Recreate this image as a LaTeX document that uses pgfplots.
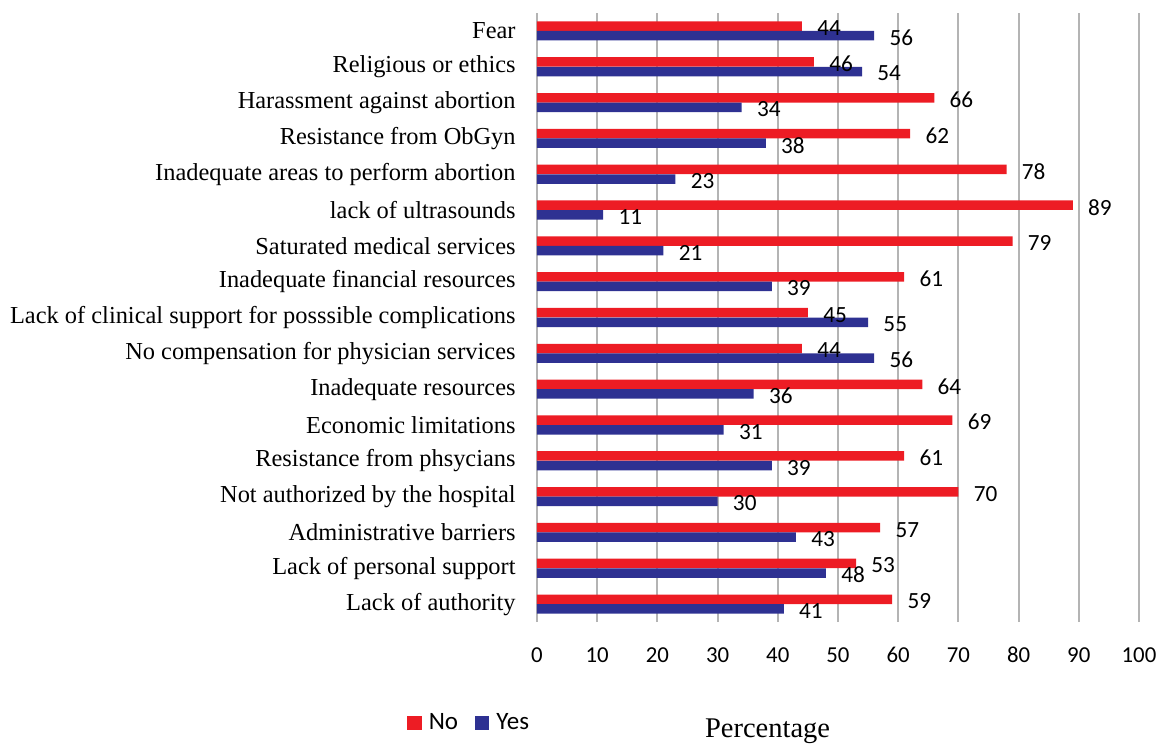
\documentclass[border=0pt]{standalone}
\usepackage{fontspec}
\setmainfont{Liberation Serif}
\newfontfamily\carlito{Carlito}
\usepackage{pgfplots}
\pgfplotsset{compat=1.18}
\definecolor{nored}{HTML}{ED1C24}
\definecolor{yesblue}{HTML}{2E3192}
\definecolor{gridgray}{HTML}{B4B4B4}
\begin{document}
\begin{tikzpicture}
\begin{axis}[
  scale only axis, width=301pt, height=304.5pt,
  xbar, bar width=4.75pt,
  xmin=0, xmax=100, ymin=-0.5, ymax=16.5,
  xtick={0,10,...,100},
  ytick={0,...,16},
  yticklabels={Lack of authority, Lack of personal support, Administrative barriers, Not authorized by the hospital, Resistance from phsycians, Economic limitations, Inadequate resources, No compensation for physician services, Lack of clinical support for posssible complications, Inadequate financial resources, Saturated medical services, lack of ultrasounds, Inadequate areas to perform abortion, Resistance from ObGyn, Harassment against abortion, Religious or ethics, Fear},
  major tick length=0pt,
  axis line style={draw=none},
  xmajorgrids, ymajorgrids=false,
  major grid style={gridgray, line width=1pt},
  /pgf/number format/assume math mode=true,
  xticklabel style={font=\carlito\fontsize{11.4}{13}\selectfont, anchor=center, yshift=-16.5pt},
  yticklabel style={font=\fontsize{12.2}{14}\selectfont, anchor=east, inner sep=0pt, xshift=-10.5pt},
  point meta=x,
  nodes near coords,
  nodes near coords style={font=\carlito\fontsize{11.6}{13}\selectfont, anchor=west, inner sep=0pt, xshift=7.5pt, yshift=-1pt, text=black},
  xlabel={Percentage},
  xlabel style={at={(axis description cs:0.383,-0.18)}, anchor=center, font=\fontsize{14.25}{16}\selectfont},
  legend columns=2,
  legend style={at={(axis description cs:-0.216,-0.166)}, anchor=west, draw=none, fill=none, inner sep=0pt,
    nodes={inner sep=0pt, font=\carlito\fontsize{12.5}{14}\selectfont},
    /tikz/every odd column/.append style={column sep=3.5pt},
    /tikz/every even column/.append style={column sep=8.5pt}},
]
\addplot[xbar, bar shift=2.4pt, fill=nored, draw=none,
  legend image code/.code={\fill[nored] (0pt,-3.6pt) rectangle (7.2pt,3.6pt);}]
  coordinates {(59,0) (53,1) (57,2) (70,3) (61,4) (69,5) (64,6) (44,7) (45,8) (61,9) (79,10) (89,11) (78,12) (62,13) (66,14) (46,15) (44,16)};
\addplot[xbar, bar shift=-2.4pt, fill=yesblue, draw=none,
  legend image code/.code={\fill[yesblue] (0pt,-3.6pt) rectangle (7.2pt,3.6pt);}]
  coordinates {(41,0) (48,1) (43,2) (30,3) (39,4) (31,5) (36,6) (56,7) (55,8) (39,9) (21,10) (11,11) (23,12) (38,13) (34,14) (54,15) (56,16)};
\legend{No, Yes}
\coordinate (SW) at (rel axis cs:0,0);
\end{axis}
\pgfresetboundingbox
\path (SW) ++(-268.5pt,311pt) rectangle ++(581pt,-372pt);
\end{tikzpicture}
\end{document}
